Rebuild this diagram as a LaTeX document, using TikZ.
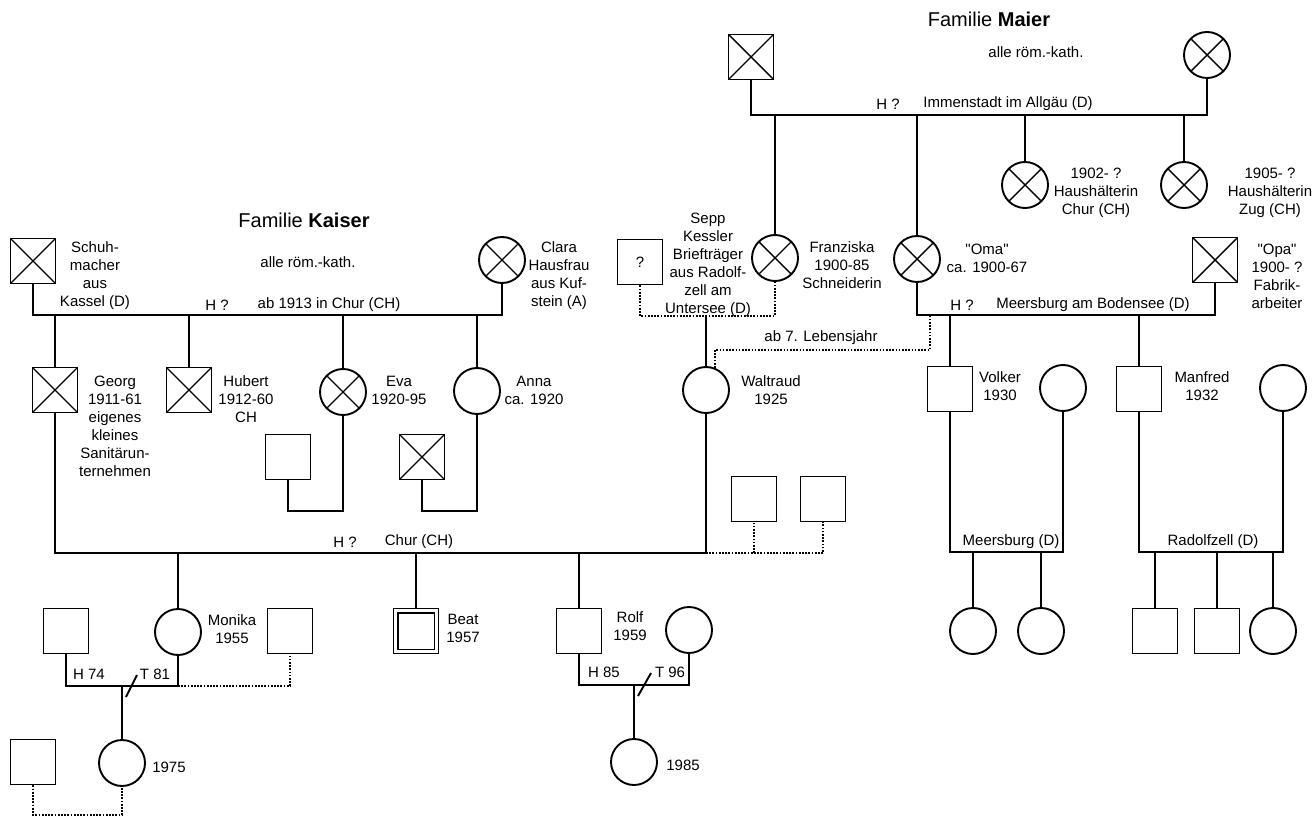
\documentclass[tikz,border=0pt]{standalone}
\usepackage{fontspec}
\setmainfont{Liberation Sans}
\begin{document}
\begin{tikzpicture}[x=1pt,y=-1pt,line width=1.9pt,
  sq/.style={draw, minimum size=45pt, inner sep=0pt},
  ci/.style={draw, circle, minimum size=46pt, inner sep=0pt},
  dead/.style={path picture={\draw[line width=1.4pt] (path picture bounding box.north west) -- (path picture bounding box.south east) (path picture bounding box.north east) -- (path picture bounding box.south west);}},
  lbl/.style={font=\fontsize{15}{18}\selectfont, align=center, inner sep=0pt},
  ttl/.style={font=\fontsize{20}{24}\selectfont, inner sep=0pt},
  rel/.style={line width=1.7pt, dash pattern=on 1.7pt off 1.5pt}
]
\useasboundingbox (0,0) rectangle (1314,818);

% ---------------- Familie Kaiser ----------------
\node[ttl] (tK) at (304,220) {Familie \textbf{Kaiser}};
\node[lbl] (rK) at (308,262) {alle röm.-kath.};
\node[sq,dead] (schuh) at (33,261) {};
\node[lbl] (schuhT) at (95,275.5) {Schuh-\\macher\\aus\\Kassel (D)};
\node[ci,dead] (clara) at (502,260) {};
\node[lbl] (claraT) at (559,276) {Clara\\Hausfrau\\aus Kuf-\\stein (A)};
\coordinate (kL) at (0,315);
\draw (schuh.south) -- (schuh.south |- kL) -- (clara.south |- kL) -- (clara.south);
\node[lbl] (hK) at (217,305) {H ?};
\node[lbl] (oK) at (329,305) {ab 1913 in Chur (CH)};

\node[sq,dead] (georg) at (55,390) {};
\node[sq,dead] (hubert) at (189,390) {};
\node[ci,dead] (eva) at (343,392) {};
\node[ci] (anna) at (477,391) {};
\foreach \n in {georg,hubert,eva,anna} \draw (\n.north |- kL) -- (\n.north);
\node[lbl] (georgT) at (115,426.5) {Georg\\1911-61\\eigenes\\kleines\\Sanitärun-\\ternehmen};
\node[lbl] (hubertT) at (246,399) {Hubert\\1912-60\\CH};
\node[lbl] (evaT) at (399,390) {Eva\\1920-95};
\node[lbl] (annaT) at (534,390) {Anna\\ca. 1920};

\node[sq] (evaS) at (288,457) {};
\node[sq,dead] (annaS) at (422,457) {};
\coordinate (evL) at (0,511);
\draw (eva.south) -- (eva.south |- evL) -- (evaS.south |- evL) -- (evaS.south);
\draw (anna.south) -- (anna.south |- evL) -- (annaS.south |- evL) -- (annaS.south);

% ---------------- Georg + Waltraud ----------------
\node[ci] (walt) at (706,390) {};
\node[lbl] (waltT) at (771,390) {Waltraud\\1925};
\coordinate (gwL) at (0,553);
\draw (georg.south) -- (georg.south |- gwL) -- (walt.south |- gwL) -- (walt.south);
\node[sq] (wp1) at (754,499) {};
\node[sq] (wp2) at (823,499) {};
\draw[rel] (walt.south |- gwL) -- (wp2.south |- gwL) -- (wp2.south);
\draw[rel] (wp1.south |- gwL) -- (wp1.south);
\node[lbl] (hGW) at (345,542) {H ?};
\node[lbl] (oGW) at (419,542) {Chur (CH)};

\node[ci] (monika) at (178,632) {};
\node[sq] (beat) at (416,631) {};
\node[sq] (rolf) at (579,631) {};
\foreach \n in {monika,beat,rolf} \draw (\n.north |- gwL) -- (\n.north);
\draw ([xshift=5pt,yshift=5pt]beat.south west) rectangle ([xshift=-5pt,yshift=-5pt]beat.north east);
\node[lbl] (monikaT) at (232,629) {Monika\\1955};
\node[lbl] (beatT) at (463,628) {Beat\\1957};
\node[lbl] (rolfT) at (630,626) {Rolf\\1959};

% Monika
\node[sq] (mh1) at (66,631) {};
\node[sq] (mh2) at (290,631) {};
\coordinate (mL) at (0,686);
\draw (mh1.south) -- (mh1.south |- mL) -- (monika.south |- mL) -- (monika.south);
\draw[rel] (monika.south |- mL) -- (mh2.south |- mL) -- (mh2.south);
\node[lbl] (h74) at (89,674) {H 74};
\node[lbl] (t81) at (155,674) {T 81};
\node[ci] (k75) at (122,763) {};
\draw (k75.north |- mL) -- (k75.north);
\coordinate (s1a) at (126,697);
\coordinate (s1b) at (137,675);
\draw (s1a) -- (s1b);
\node[lbl] (k75T) at (169,767) {1975};
\node[sq] (k75p) at (33,762) {};
\coordinate (pL) at (0,815);
\draw[rel] (k75p.south) -- (k75p.south |- pL) -- (k75.south |- pL) -- (k75.south);

% Rolf
\node[ci] (rolfW) at (689,630) {};
\coordinate (rL) at (0,685);
\draw (rolf.south) -- (rolf.south |- rL) -- (rolfW.south |- rL) -- (rolfW.south);
\node[lbl] (h85) at (604,672) {H 85};
\node[lbl] (t96) at (670,672) {T 96};
\node[ci] (k85) at (634,762) {};
\draw (k85.north |- rL) -- (k85.north);
\coordinate (s2a) at (638,696);
\coordinate (s2b) at (651,673);
\draw (s2a) -- (s2b);
\node[lbl] (k85T) at (683,765) {1985};

% ---------------- Familie Maier ----------------
\node[ttl] (tM) at (989,19) {Familie \textbf{Maier}};
\node[lbl] (rM) at (1036,52) {alle röm.-kath.};
\node[sq,dead] (mf) at (751,57) {};
\node[ci,dead] (mm) at (1207,55) {};
\coordinate (mL0) at (0,115);
\draw (mf.south) -- (mf.south |- mL0) -- (mm.south |- mL0) -- (mm.south);
\node[lbl] (hM) at (888,104) {H ?};
\node[lbl] (oM) at (1008,104) {Immenstadt im Allgäu (D)};

\node[ci,dead] (franz) at (775,258) {};
\node[ci,dead] (oma) at (917,259) {};
\node[ci,dead] (t1902) at (1025,185) {};
\node[ci,dead] (t1905) at (1184,185) {};
\foreach \n in {franz,oma,t1902,t1905} \draw (\n.north |- mL0) -- (\n.north);
\node[lbl] (t1902T) at (1096,193) {1902- ?\\Haushälterin\\Chur (CH)};
\node[lbl] (t1905T) at (1270,193) {1905- ?\\Haushälterin\\Zug (CH)};
\node[lbl] (franzT) at (842,265) {Franziska\\1900-85\\Schneiderin};
\node[lbl] (omaT) at (987,258) {\textquotedbl Oma\textquotedbl\\ca. 1900-67};

% Sepp + Franziska
\node[sq,lbl,draw,minimum size=45pt] (sepp) at (640,262) {?};
\node[lbl] (seppT) at (708,265) {Sepp\\Kessler\\Briefträger\\aus Radolf-\\zell am\\Untersee (D)};
\coordinate (sL) at (0,316);
\draw[rel] (sepp.south) -- (sepp.south |- sL) -- (franz.south |- sL) -- (franz.south);
\draw (walt.north |- sL) -- (walt.north);

% Oma + Opa
\node[sq,dead] (opa) at (1215,260) {};
\node[lbl] (opaT) at (1277,276) {\textquotedbl Opa\textquotedbl\\1900- ?\\Fabrik-\\arbeiter};
\coordinate (oL) at (0,315);
\draw (oma.south) -- (oma.south |- oL) -- (opa.south |- oL) -- (opa.south);
\node[lbl] (hO) at (962,305) {H ?};
\node[lbl] (oO) at (1093,305) {Meersburg am Bodensee (D)};
\coordinate (lj) at (0,350);
\coordinate (ljx) at (930,0);
\draw[rel] (walt.68) -- (walt.68 |- lj) -- (ljx |- lj) -- (ljx |- oL);
\node[lbl] (ljT) at (821,338) {ab 7. Lebensjahr};

% Volker, Manfred
\node[sq] (volker) at (950,389) {};
\node[ci] (volkerW) at (1063,388) {};
\node[sq] (manfred) at (1139,389) {};
\node[ci] (manfredW) at (1283,388) {};
\draw (volker.north |- oL) -- (volker.north);
\draw (manfred.north |- oL) -- (manfred.north);
\node[lbl] (volkerT) at (1000,386) {Volker\\1930};
\node[lbl] (manfredT) at (1202,386) {Manfred\\1932};
\coordinate (vL) at (0,552);
\draw (volker.south) -- (volker.south |- vL) -- (volkerW.south |- vL) -- (volkerW.south);
\draw (manfred.south) -- (manfred.south |- vL) -- (manfredW.south |- vL) -- (manfredW.south);
\node[lbl] (vO) at (1011,542) {Meersburg (D)};
\node[lbl] (mO) at (1213,542) {Radolfzell (D)};

\node[ci] (vk1) at (973,631) {};
\node[ci] (vk2) at (1041,631) {};
\node[sq] (mk1) at (1155,631) {};
\node[sq] (mk2) at (1217,631) {};
\node[ci] (mk3) at (1273,631) {};
\foreach \n in {vk1,vk2,mk1,mk2,mk3} \draw (\n.north |- vL) -- (\n.north);
\end{tikzpicture}
\end{document}
